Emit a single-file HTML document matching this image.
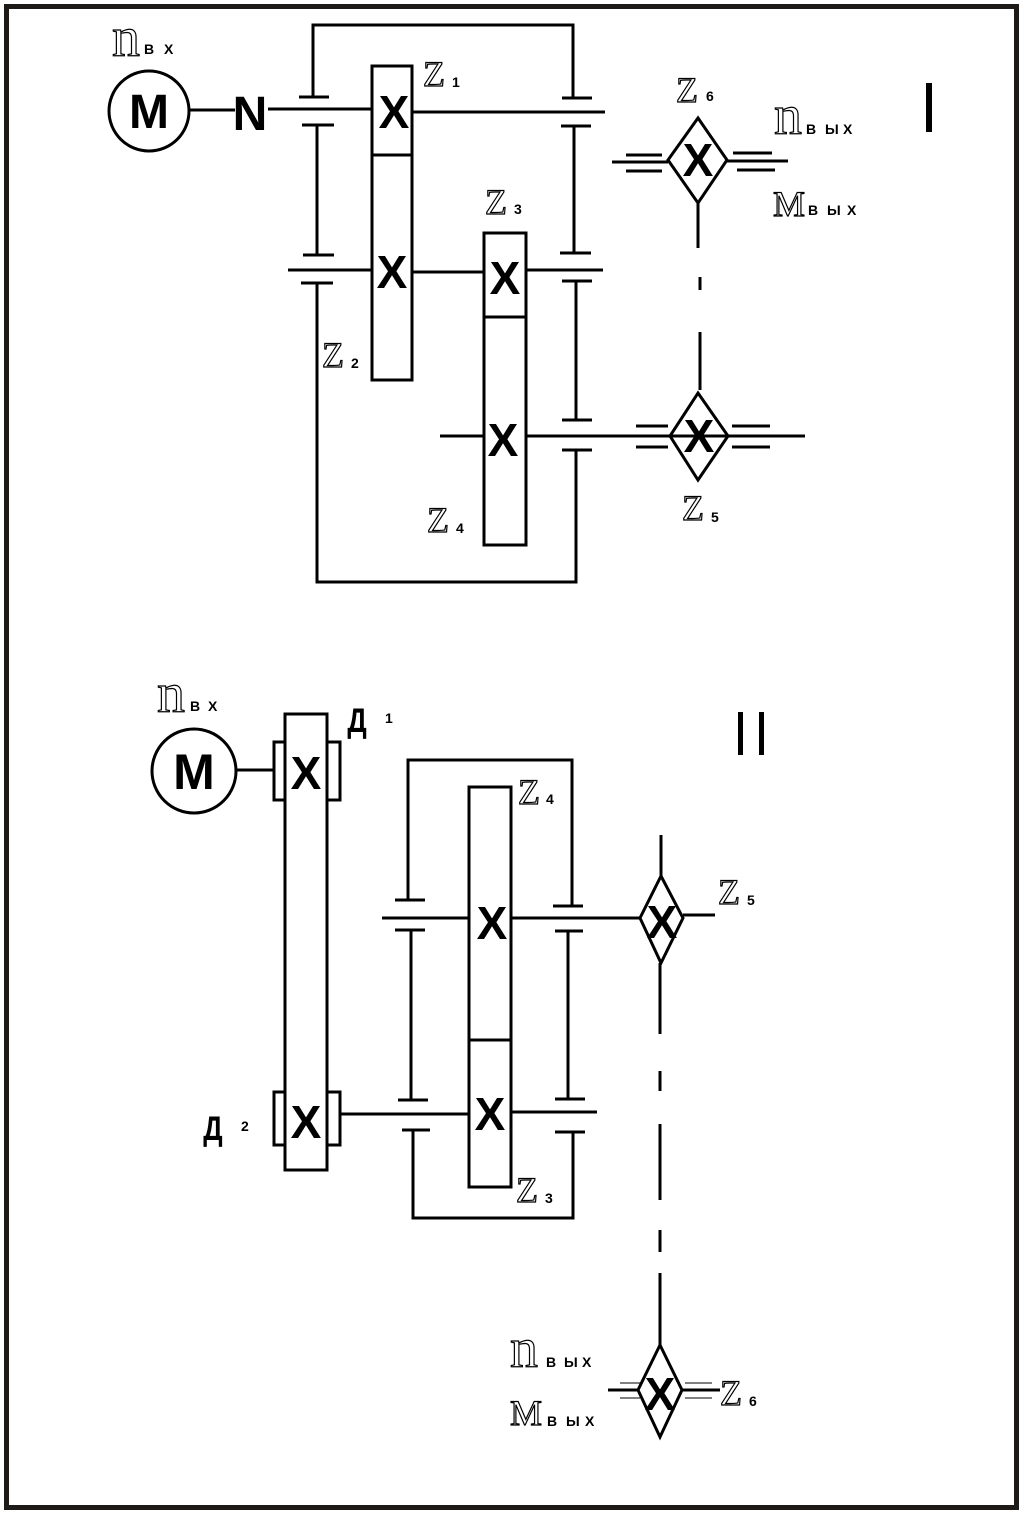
<!DOCTYPE html>
<html><head><meta charset="utf-8"><style>
html,body{margin:0;padding:0;background:#fff}
svg{display:block}
.z{font-family:"Liberation Serif",serif;font-size:36px;fill:#fff;stroke:#000;stroke-width:1.2}
.n{font-family:"Liberation Serif",serif;font-size:56px;fill:#fff;stroke:#000;stroke-width:1.2}
.s{font-family:"Liberation Sans",sans-serif;font-size:14px;font-weight:bold;fill:#000}
.x{font-family:"Liberation Sans",sans-serif;font-size:46px;font-weight:bold;fill:#000;text-anchor:middle}
.b{font-family:"Liberation Sans",sans-serif;font-weight:bold;fill:#000;text-anchor:middle}
</style></head><body>
<svg width="1024" height="1517" viewBox="0 0 1024 1517" xmlns="http://www.w3.org/2000/svg">
<rect x="6.5" y="6.5" width="1010" height="1501" fill="none" stroke="#1e1a18" stroke-width="5"/>
<g stroke="#000" stroke-width="3" fill="none">
<circle cx="149" cy="111" r="40"/>
<line x1="190" y1="110" x2="235" y2="110"/>
<line x1="268" y1="109" x2="372" y2="109"/>
<polyline points="313,97 313,25 573,25 573,98"/>
<line x1="299" y1="97" x2="329" y2="97"/>
<line x1="302" y1="125" x2="334" y2="125"/>
<line x1="317" y1="125" x2="317" y2="255"/>
<line x1="303" y1="255" x2="334" y2="255"/>
<line x1="288" y1="270" x2="372" y2="270"/>
<line x1="301" y1="283" x2="333" y2="283"/>
<polyline points="317,283 317,582 576,582 576,450"/>
<rect x="372" y="66" width="40" height="314"/>
<line x1="372" y1="155" x2="412" y2="155"/>
<line x1="412" y1="112" x2="605" y2="112"/>
<line x1="562" y1="98" x2="592" y2="98"/>
<line x1="561" y1="126" x2="591" y2="126"/>
<line x1="574" y1="126" x2="574" y2="253"/>
<line x1="560" y1="253" x2="591" y2="253"/>
<line x1="527" y1="270" x2="603" y2="270"/>
<line x1="562" y1="281" x2="592" y2="281"/>
<line x1="576" y1="281" x2="576" y2="420"/>
<line x1="562" y1="420" x2="592" y2="420"/>
<line x1="527" y1="436" x2="805" y2="436"/>
<line x1="562" y1="450" x2="592" y2="450"/>
<line x1="412" y1="272" x2="484" y2="272"/>
<rect x="484" y="233" width="42" height="312"/>
<line x1="484" y1="317" x2="526" y2="317"/>
<line x1="440" y1="436" x2="484" y2="436"/>
<polygon points="698,118 727,160 698,203 668,160"/>
<line x1="612" y1="162" x2="668" y2="162"/>
<line x1="626" y1="155" x2="662" y2="155"/>
<line x1="626" y1="171" x2="662" y2="171"/>
<line x1="727" y1="161" x2="788" y2="161"/>
<line x1="733" y1="153" x2="772" y2="153"/>
<line x1="737" y1="170" x2="775" y2="170"/>
<line x1="698" y1="203" x2="698" y2="248"/>
<line x1="700" y1="277" x2="700" y2="290"/>
<line x1="700" y1="332" x2="700" y2="390"/>
<polygon points="698,393 728,436 698,480 670,436"/>
<line x1="636" y1="426" x2="668" y2="426"/>
<line x1="636" y1="447" x2="668" y2="447"/>
<line x1="732" y1="426" x2="770" y2="426"/>
<line x1="732" y1="447" x2="770" y2="447"/>
<circle cx="194" cy="771" r="42"/>
<line x1="236" y1="770" x2="275" y2="770"/>
<rect x="285" y="714" width="42" height="456"/>
<rect x="274" y="742" width="11" height="58"/>
<rect x="327" y="742" width="13" height="58"/>
<rect x="274" y="1092" width="11" height="53"/>
<rect x="327" y="1092" width="13" height="53"/>
<polyline points="408,900 408,760 572,760 572,906"/>
<line x1="395" y1="900" x2="425" y2="900"/>
<line x1="382" y1="918" x2="470" y2="918"/>
<line x1="395" y1="930" x2="425" y2="930"/>
<line x1="411" y1="930" x2="411" y2="1100"/>
<line x1="398" y1="1100" x2="428" y2="1100"/>
<line x1="340" y1="1114" x2="468" y2="1114"/>
<line x1="402" y1="1130" x2="430" y2="1130"/>
<polyline points="413,1130 413,1218 573,1218 573,1132"/>
<rect x="469" y="787" width="42" height="400"/>
<line x1="469" y1="1040" x2="512" y2="1040"/>
<line x1="553" y1="906" x2="583" y2="906"/>
<line x1="511" y1="918" x2="640" y2="918"/>
<line x1="555" y1="931" x2="583" y2="931"/>
<line x1="568" y1="931" x2="568" y2="1099"/>
<line x1="555" y1="1099" x2="585" y2="1099"/>
<line x1="511" y1="1112" x2="597" y2="1112"/>
<line x1="555" y1="1132" x2="585" y2="1132"/>
<polygon points="661,876 683,918 661,963 640,918"/>
<line x1="661" y1="835" x2="661" y2="876"/>
<line x1="683" y1="915" x2="715" y2="915"/>
<line x1="660" y1="963" x2="660" y2="1034"/>
<line x1="660" y1="1071" x2="660" y2="1091"/>
<line x1="660" y1="1124" x2="660" y2="1200"/>
<line x1="660" y1="1230" x2="660" y2="1252"/>
<line x1="660" y1="1273" x2="660" y2="1345"/>
<polygon points="660,1345 682,1390 660,1437 638,1390"/>
<line x1="608" y1="1390" x2="638" y2="1390"/>
<line x1="682" y1="1390" x2="720" y2="1390"/>
</g>
<g stroke="#000" stroke-width="1" fill="none">
<line x1="620" y1="1383" x2="640" y2="1383"/>
<line x1="620" y1="1398" x2="640" y2="1398"/>
<line x1="685" y1="1383" x2="712" y2="1383"/>
<line x1="685" y1="1398" x2="712" y2="1398"/>
</g>
<rect x="926" y="83" width="6" height="49" fill="#000"/>
<rect x="738" y="712" width="5" height="43" fill="#000"/>
<rect x="759" y="712" width="5" height="43" fill="#000"/>
<text class="b" x="149" y="128" font-size="48">M</text>
<text class="b" x="250" y="130" font-size="48">N</text>
<text class="b" x="194" y="789" font-size="50">M</text>
<text class="x" x="394" y="128">X</text>
<text class="x" x="392" y="288">X</text>
<text class="x" x="505" y="294">X</text>
<text class="x" x="503" y="456">X</text>
<text class="x" x="698" y="176">X</text>
<text class="x" x="699" y="452">X</text>
<text class="x" x="306" y="789" font-size="50">X</text>
<text class="x" x="306" y="1138" font-size="50">X</text>
<text class="x" x="492" y="939" font-size="50">X</text>
<text class="x" x="490" y="1130" font-size="50">X</text>
<text class="x" x="662" y="938" font-size="50">X</text>
<text class="x" x="660" y="1410" font-size="50">X</text>
<text class="n" x="112" y="56">n</text><text class="s" x="144" y="54">В</text><text class="s" x="164" y="54">Х</text>
<text class="z" x="423" y="86">Z</text><text class="s" x="452" y="87">1</text>
<text class="z" x="485" y="214">Z</text><text class="s" x="514" y="214">3</text>
<text class="z" x="322" y="367">Z</text><text class="s" x="351" y="368">2</text>
<text class="z" x="427" y="532">Z</text><text class="s" x="456" y="533">4</text>
<text class="z" x="676" y="102">Z</text><text class="s" x="706" y="101">6</text>
<text class="z" x="682" y="520">Z</text><text class="s" x="711" y="522">5</text>
<text class="n" x="774" y="134">n</text><text class="s" x="806" y="134">В</text><text class="s" x="825" y="134">Ы</text><text class="s" x="843" y="134">Х</text>
<text class="z" x="773" y="216">M</text><text class="s" x="808" y="215">В</text><text class="s" x="827" y="215">Ы</text><text class="s" x="847" y="215">Х</text>
<text class="n" x="157" y="712">n</text><text class="s" x="190" y="711">В</text><text class="s" x="208" y="711">Х</text>
<text class="b" x="357" y="732" font-size="34" transform="translate(357 0) scale(0.8 1) translate(-357 0)">Д</text><text class="s" x="385" y="723">1</text>
<text class="b" x="213" y="1140" font-size="34" transform="translate(213 0) scale(0.8 1) translate(-213 0)">Д</text><text class="s" x="241" y="1131">2</text>
<text class="z" x="518" y="804">Z</text><text class="s" x="546" y="804">4</text>
<text class="z" x="516" y="1202">Z</text><text class="s" x="545" y="1203">3</text>
<text class="z" x="718" y="904">Z</text><text class="s" x="747" y="905">5</text>
<text class="z" x="720" y="1405">Z</text><text class="s" x="749" y="1406">6</text>
<text class="n" x="510" y="1367">n</text><text class="s" x="546" y="1367">В</text><text class="s" x="564" y="1367">Ы</text><text class="s" x="582" y="1367">Х</text>
<text class="z" x="510" y="1425">M</text><text class="s" x="547" y="1426">В</text><text class="s" x="566" y="1426">Ы</text><text class="s" x="585" y="1426">Х</text>
</svg>
</body></html>
